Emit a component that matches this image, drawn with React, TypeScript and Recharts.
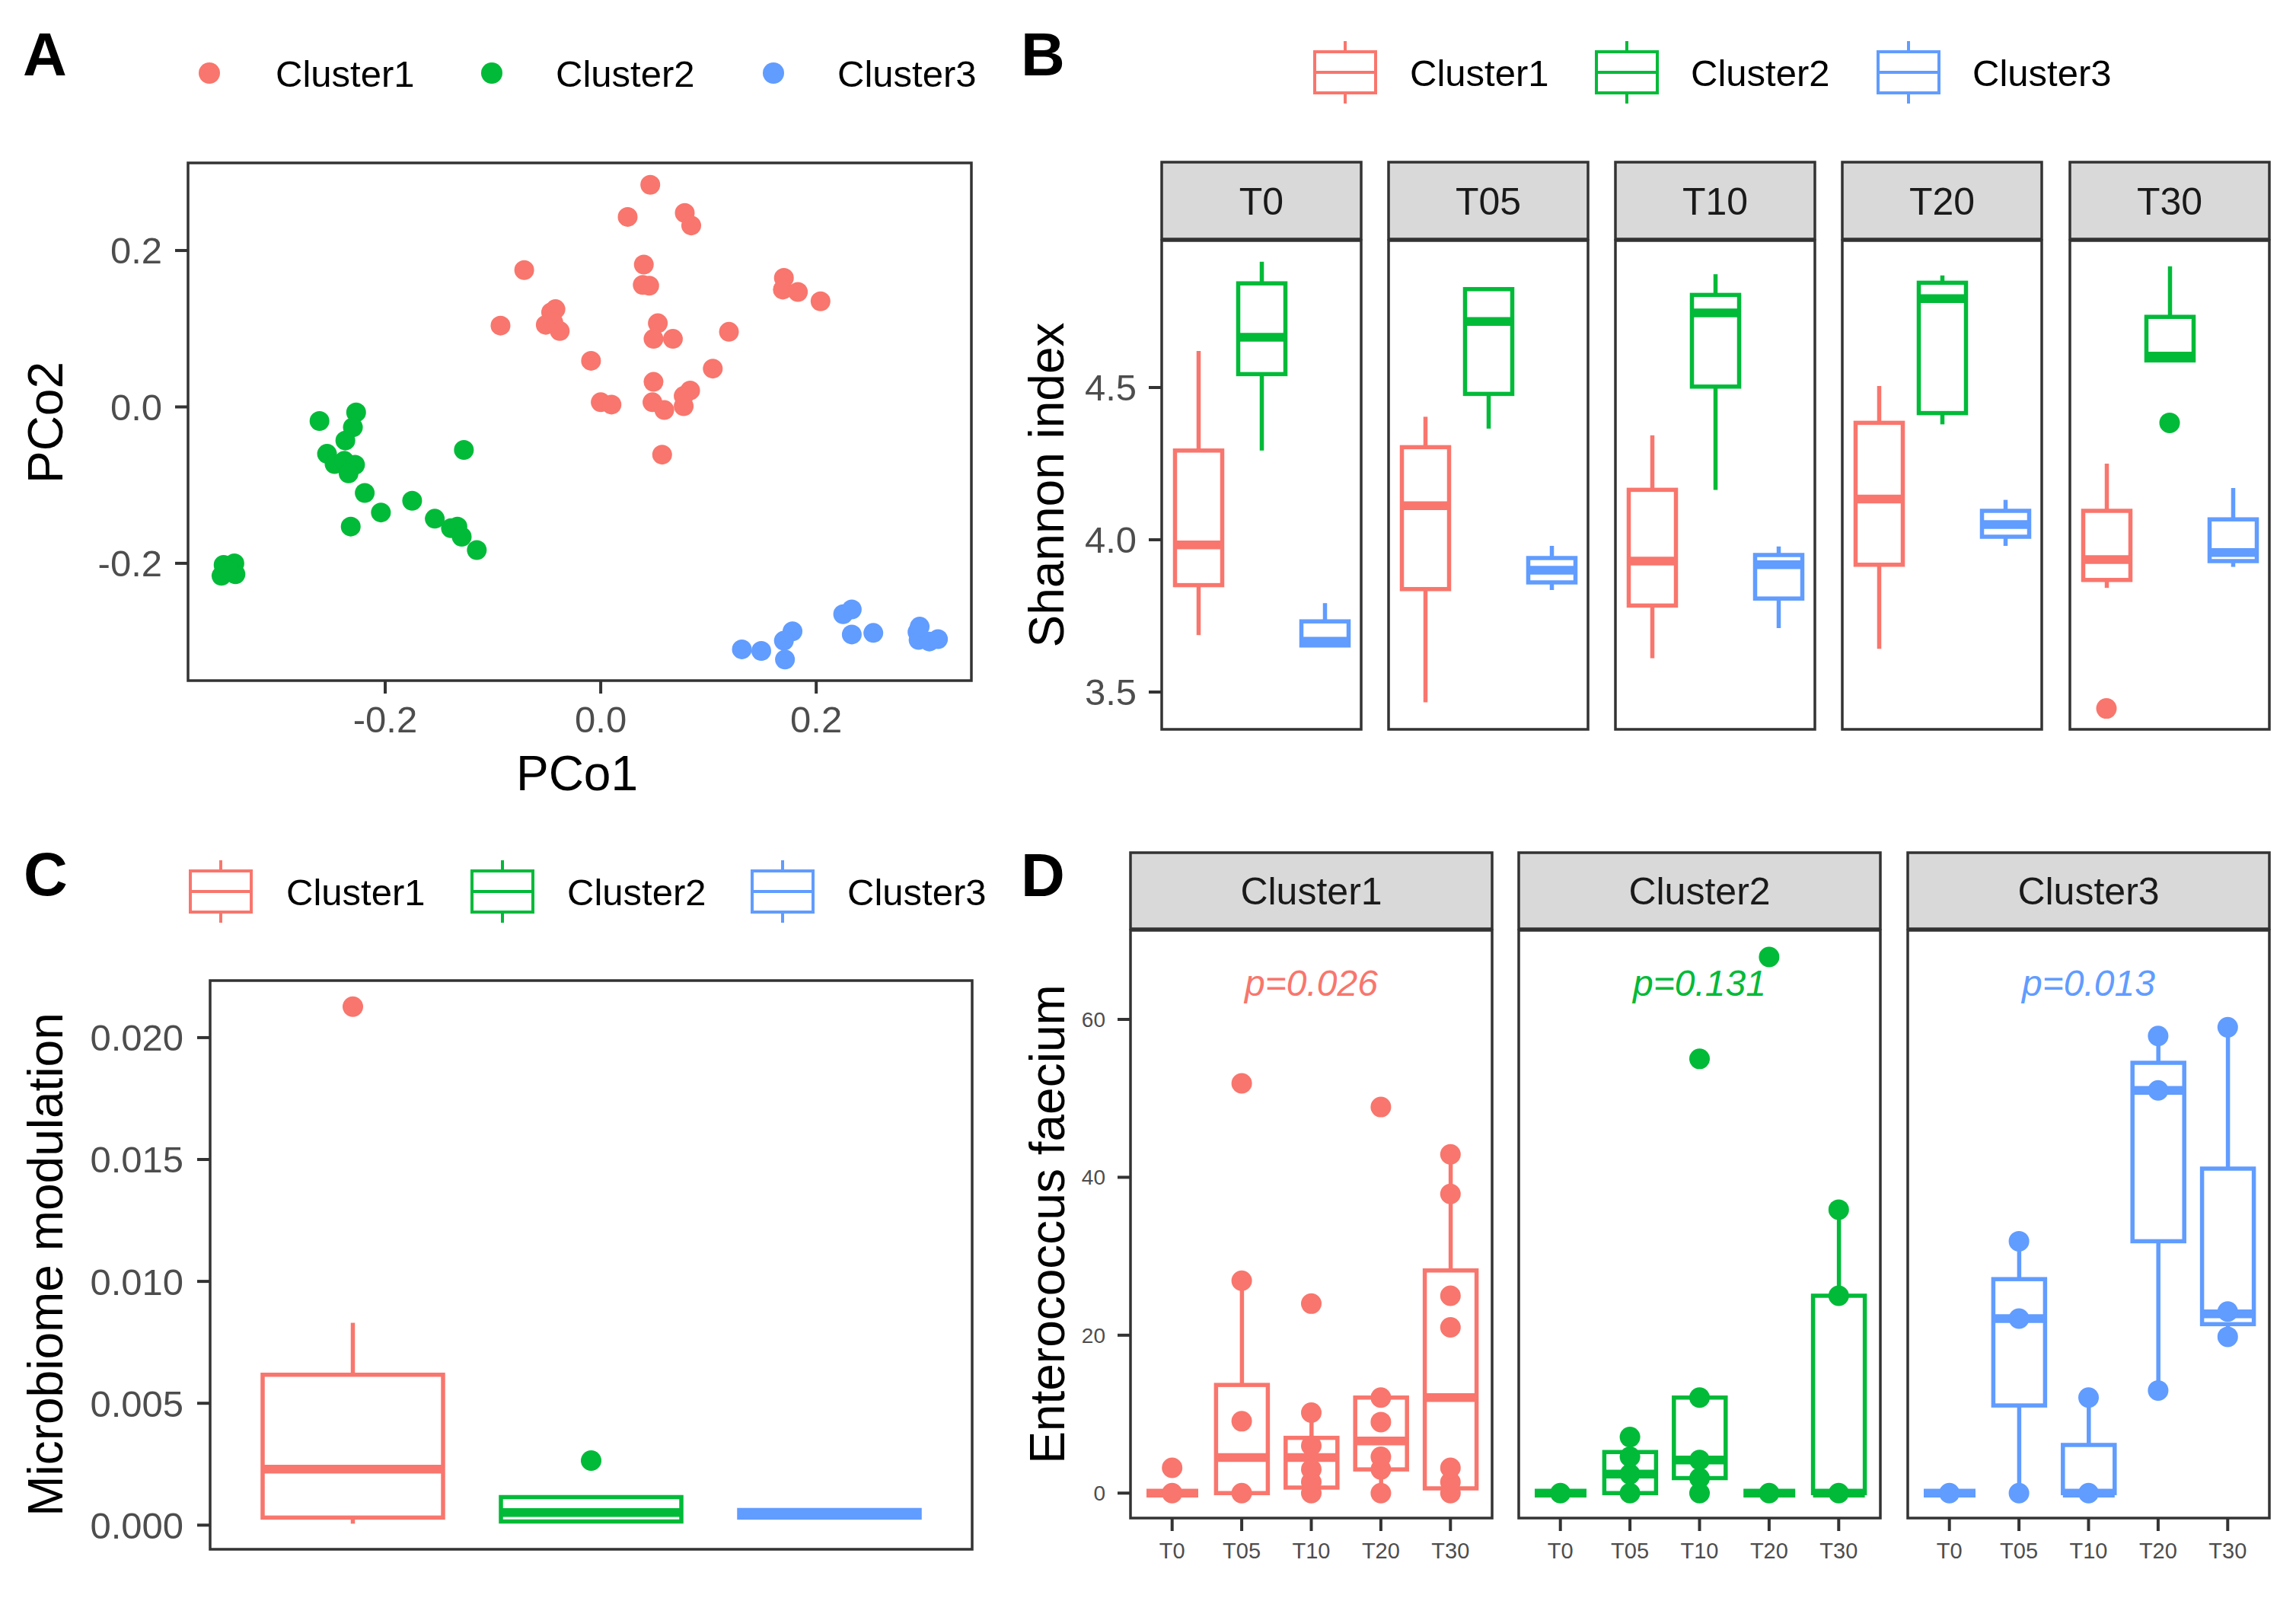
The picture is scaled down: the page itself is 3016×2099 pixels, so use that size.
import React from "react";
import { ComposedChart, ScatterChart, Scatter, Bar, XAxis, YAxis, ReferenceDot } from "recharts";

const FONT = "'Liberation Sans', Arial, Helvetica, sans-serif";
const TICK_GREY = "#4D4D4D";
const FRAME = "#333333";

const clusterNames = ["Cluster1", "Cluster2", "Cluster3"];
const clusterColors = ["#F8766D", "#00BA38", "#619CFF"];
const timePoints = ["T0", "T05", "T10", "T20", "T30"];

// A: PCoA scores, [PCo1, PCo2]
const pcoaCluster1 = [
  [0.046, 0.284], [0.025, 0.243], [0.078, 0.248], [0.084, 0.232], [-0.071, 0.175], [0.04, 0.182],
  [0.039, 0.156], [0.045, 0.155], [0.17, 0.165], [0.169, 0.15], [0.183, 0.147], [0.204, 0.135],
  [-0.046, 0.121], [-0.042, 0.125], [-0.051, 0.105], [-0.044, 0.108], [-0.038, 0.097], [-0.093, 0.104],
  [0.053, 0.107], [0.049, 0.087], [0.067, 0.087], [0.119, 0.096], [-0.009, 0.059], [0.104, 0.049],
  [0.049, 0.032], [0.0, 0.006], [0.01, 0.003], [0.048, 0.006], [0.059, -0.004], [0.077, 0.001],
  [0.083, 0.021], [0.077, 0.014], [0.057, -0.061],
];
const pcoaCluster2 = [
  [-0.261, -0.018], [-0.227, -0.007], [-0.23, -0.026], [-0.237, -0.043], [-0.254, -0.06], [-0.247, -0.073],
  [-0.238, -0.069], [-0.228, -0.074], [-0.234, -0.085], [-0.127, -0.055], [-0.219, -0.11], [-0.175, -0.12],
  [-0.204, -0.135], [-0.232, -0.153], [-0.154, -0.143], [-0.139, -0.155], [-0.133, -0.153], [-0.129, -0.166],
  [-0.115, -0.183], [-0.35, -0.202], [-0.34, -0.2], [-0.352, -0.216], [-0.339, -0.214], [-0.345, -0.209],
];
const pcoaCluster3 = [
  [0.131, -0.31], [0.149, -0.312], [0.178, -0.287], [0.17, -0.299], [0.171, -0.323], [0.225, -0.265],
  [0.233, -0.259], [0.233, -0.291], [0.253, -0.289], [0.294, -0.288], [0.295, -0.298], [0.305, -0.3],
  [0.313, -0.297], [0.296, -0.281],
];
const pcoTicks = [-0.2, 0, 0.2];
const pco1Domain = [-0.383, 0.344];
const pco2Domain = [-0.35, 0.312];

// B: Shannon index, per time point [lower whisker, Q1, median, Q3, upper whisker]
const shannonCluster1 = [
  [3.687, 3.851, 3.983, 4.293, 4.62],
  [3.466, 3.838, 4.112, 4.304, 4.404],
  [3.611, 3.784, 3.93, 4.164, 4.343],
  [3.642, 3.918, 4.134, 4.384, 4.505],
  [3.842, 3.868, 3.935, 4.095, 4.25],
];
const shannonCluster2 = [
  [4.293, 4.544, 4.665, 4.842, 4.913],
  [4.365, 4.479, 4.717, 4.823, 4.823],
  [4.164, 4.503, 4.745, 4.804, 4.872],
  [4.379, 4.416, 4.792, 4.844, 4.868],
  [4.589, 4.589, 4.603, 4.732, 4.898],
];
const shannonCluster3 = [
  [3.65, 3.653, 3.667, 3.732, 3.792],
  [3.835, 3.86, 3.9, 3.94, 3.98],
  [3.71, 3.807, 3.918, 3.95, 3.978],
  [3.98, 4.01, 4.05, 4.095, 4.131],
  [3.911, 3.93, 3.958, 4.067, 4.17],
];
const shannonOutliers = [
  { time: "T30", cluster: "Cluster1", value: 3.446 },
  { time: "T30", cluster: "Cluster2", value: 4.384 },
];
const shannonTicks = [3.5, 4.0, 4.5];
const shannonDomain = [3.3775, 4.9825];

// C: microbiome modulation [lower whisker, Q1, median, Q3, upper whisker]
const modulationStats = [
  [0.00006, 0.00031, 0.0023, 0.00617, 0.0083],
  [0.0001, 0.00015, 0.00052, 0.00115, 0.00115],
  [0.00027, 0.00031, 0.00047, 0.00062, 0.00065],
];
const modulationOutliers = [
  { cluster: "Cluster1", value: 0.02127 },
  { cluster: "Cluster2", value: 0.00265 },
];
const modulationTicks = [0, 0.005, 0.01, 0.015, 0.02];
const modulationDomain = [-0.00099, 0.02234];

// D: Enterococcus faecium per cluster and time point
const faeciumCluster1 = [
  [0, 0, 0, 0, 0],
  [0, 0, 4.5, 13.7, 26.9],
  [0, 0.7, 4.5, 7.0, 10.2],
  [0, 3.0, 6.6, 12.1, 12.1],
  [0, 0.6, 12.1, 28.2, 42.9],
];
const faeciumCluster2 = [
  [0, 0, 0, 0, 0],
  [0, 0, 2.4, 5.2, 7.1],
  [0, 1.9, 4.2, 12.1, 12.1],
  [0, 0, 0, 0, 0],
  [0, 0, 0, 25, 35.9],
];
const faeciumCluster3 = [
  [0, 0, 0, 0, 0],
  [0, 11.1, 22.1, 27.1, 31.9],
  [0, 0, 0, 6.1, 12.1],
  [13, 31.9, 51, 54.5, 57.9],
  [19.8, 21.4, 22.7, 41.1, 59],
];
const faeciumPoints1 = [[0, 3.2], [0, 9.1, 26.9, 51.9], [0, 1.4, 3.0, 6.0, 10.2, 24], [0, 3.0, 4.6, 9.0, 12.1, 48.9], [0, 1.4, 3.2, 21, 25, 37.9, 42.9]];
const faeciumPoints2 = [[0], [0, 2.4, 4.6, 7.1], [0, 1.9, 4.2, 12.1, 55], [0, 67.9], [0, 25, 35.9]];
const faeciumPoints3 = [[0], [0, 22.1, 31.9], [0, 12.1], [13, 51, 57.9], [19.8, 23, 59]];
const pValues = ["p=0.026", "p=0.131", "p=0.013"];
const pValueAt = 64.6;
const faeciumTicks = [0, 20, 40, 60];
const faeciumDomain = [-3.16, 71.28];

// layout (page pixels)
const PA = { x: 247, y: 214, w: 1029, h: 680 };
const PB = { y: 316, h: 642, stripY: 213, stripH: 101, lefts: [1526, 1824, 2122, 2420, 2719], w: 262, axisW: 176 };
const PC = { x: 276, y: 1288, w: 1001, h: 747 };
const PD = { y: 1222, h: 772, stripY: 1120, stripH: 100, lefts: [1485, 1995, 2506], w: 475, axisW: 135, xAxisH: 80 };

const LW = 5.5;
const MED = 11.5;

const toBox = (name: string, s: number[]) => ({ name, wl: s[0], q1: s[1], med: s[2], q3: s[3], wh: s[4] });
const colorOf = (name: string) => clusterColors[clusterNames.indexOf(name)];

const tickText = { fill: TICK_GREY, fontSize: 49, fontFamily: FONT };
const tickLine = { stroke: FRAME, strokeWidth: 4 };

function boxShape(getColor: (p: any) => string) {
  return (props: any) => {
    const { x, y, width, height, payload } = props;
    const top = Math.min(y, y + height);
    const bot = Math.max(y, y + height);
    const { wl, q1, med, q3, wh } = payload;
    const span = wh - wl;
    const py = (v: number) => (span === 0 ? bot : bot - ((v - wl) / span) * (bot - top));
    const cx = x + width / 2;
    const c = getColor(payload);
    return (
      <g>
        <line x1={cx} x2={cx} y1={py(wh)} y2={py(q3)} stroke={c} strokeWidth={LW} />
        <line x1={cx} x2={cx} y1={py(q1)} y2={py(wl)} stroke={c} strokeWidth={LW} />
        <rect x={x} y={py(q3)} width={width} height={Math.max(0, py(q1) - py(q3))} fill="#ffffff" stroke={c} strokeWidth={LW} />
        <line x1={x} x2={x + width} y1={py(med)} y2={py(med)} stroke={c} strokeWidth={MED} />
      </g>
    );
  };
}

const dotShape = (getColor: (p: any) => string, r: number) => (props: any) =>
  <circle cx={props.cx} cy={props.cy} r={r} fill={getColor(props.payload)} />;

function BoxKey({ cx, cy, color }: { cx: number; cy: number; color: string }) {
  return (
    <g stroke={color} strokeWidth={4} fill="#ffffff">
      <line x1={cx} x2={cx} y1={cy - 41} y2={cy + 41} />
      <rect x={cx - 40} y={cy - 27} width={80} height={54} />
      <line x1={cx - 40} x2={cx + 40} y1={cy} y2={cy} />
    </g>
  );
}

function PanelA() {
  return (
    <div style={{ position: "absolute", left: 0, top: 0 }}>
      <ScatterChart width={PA.x + PA.w + 24} height={PA.y + PA.h + 166} margin={{ top: PA.y, right: 24, left: 0, bottom: 0 }}>
        <XAxis type="number" dataKey="x" domain={pco1Domain} allowDataOverflow ticks={pcoTicks} interval={0}
          tickFormatter={(v: number) => v.toFixed(1)} height={166} tickSize={17} tickMargin={16}
          tick={tickText} tickLine={tickLine} axisLine={false} />
        <YAxis type="number" dataKey="y" domain={pco2Domain} allowDataOverflow ticks={pcoTicks} interval={0}
          tickFormatter={(v: number) => v.toFixed(1)} width={PA.x} tickSize={17} tickMargin={17}
          tick={tickText} tickLine={tickLine} axisLine={false} />
        {[pcoaCluster1, pcoaCluster2, pcoaCluster3].map((pts, i) => (
          <Scatter key={clusterNames[i]} name={clusterNames[i]} data={pts.map(([x, y]) => ({ x, y }))}
            shape={dotShape(() => clusterColors[i], 13)} isAnimationActive={false} />
        ))}
      </ScatterChart>
    </div>
  );
}

function PanelB() {
  const stats = [shannonCluster1, shannonCluster2, shannonCluster3];
  return (
    <>
      {timePoints.map((t, ti) => {
        const first = ti === 0;
        const left = first ? PB.lefts[ti] - PB.axisW : PB.lefts[ti];
        const rows = clusterNames.map((c, ci) => toBox(c, stats[ci][ti]));
        const outs = shannonOutliers.filter((o) => o.time === t).map((o) => ({ name: o.cluster, value: o.value }));
        return (
          <div key={t} style={{ position: "absolute", left, top: PB.y }}>
            <ComposedChart width={(first ? PB.axisW : 0) + PB.w} height={PB.h} data={rows} margin={{ top: 0, right: 0, left: 0, bottom: 0 }}>
              <XAxis dataKey="name" type="category" allowDuplicatedCategory={false} hide padding={{ left: 6.5, right: 6.5 }} />
              <YAxis type="number" domain={shannonDomain} allowDataOverflow ticks={shannonTicks} interval={0}
                tickFormatter={(v: number) => v.toFixed(1)} width={PB.axisW} hide={!first} tickSize={17} tickMargin={16}
                tick={tickText} tickLine={tickLine} axisLine={false} />
              <Bar dataKey={(d: any) => [d.wl, d.wh]} barSize={62} shape={boxShape((p) => colorOf(p.name))} isAnimationActive={false} />
              {outs.length > 0 && (
                <Scatter data={outs} dataKey="value" shape={dotShape((p) => colorOf(p.name), 13.5)} isAnimationActive={false} />
              )}
            </ComposedChart>
          </div>
        );
      })}
    </>
  );
}

function PanelC() {
  const rows = clusterNames.map((c, i) => toBox(c, modulationStats[i]));
  const outs = modulationOutliers.map((o) => ({ name: o.cluster, value: o.value }));
  return (
    <div style={{ position: "absolute", left: 0, top: PC.y }}>
      <ComposedChart width={PC.x + PC.w + 23} height={PC.h} data={rows} margin={{ top: 0, right: 23, left: 0, bottom: 0 }}>
        <XAxis dataKey="name" type="category" allowDuplicatedCategory={false} hide padding={{ left: 31, right: 31 }} />
        <YAxis type="number" domain={modulationDomain} allowDataOverflow ticks={modulationTicks} interval={0}
          tickFormatter={(v: number) => v.toFixed(3)} width={PC.x} tickSize={17} tickMargin={18}
          tick={tickText} tickLine={tickLine} axisLine={false} />
        <Bar dataKey={(d: any) => [d.wl, d.wh]} barSize={237} shape={boxShape((p) => colorOf(p.name))} isAnimationActive={false} />
        <Scatter data={outs} dataKey="value" shape={dotShape((p) => colorOf(p.name), 13.5)} isAnimationActive={false} />
      </ComposedChart>
    </div>
  );
}

function PanelD() {
  const stats = [faeciumCluster1, faeciumCluster2, faeciumCluster3];
  const points = [faeciumPoints1, faeciumPoints2, faeciumPoints3];
  return (
    <>
      {clusterNames.map((c, ci) => {
        const first = ci === 0;
        const left = first ? PD.lefts[ci] - PD.axisW : PD.lefts[ci];
        const color = clusterColors[ci];
        const rows = timePoints.map((t, ti) => toBox(t, stats[ci][ti]));
        const pts = timePoints.flatMap((t, ti) => points[ci][ti].map((v) => ({ name: t, value: v })));
        return (
          <div key={c} style={{ position: "absolute", left, top: PD.y }}>
            <ComposedChart width={(first ? PD.axisW : 0) + PD.w} height={PD.h + PD.xAxisH} data={rows} margin={{ top: 0, right: 0, left: 0, bottom: 0 }}>
              <XAxis dataKey="name" type="category" allowDuplicatedCategory={false} padding={{ left: 9, right: 9 }}
                height={PD.xAxisH} tickSize={17} tickMargin={15} interval={0}
                tick={{ ...tickText, fontSize: 29 }} tickLine={tickLine} axisLine={false} />
              <YAxis type="number" domain={faeciumDomain} allowDataOverflow ticks={faeciumTicks} interval={0}
                width={PD.axisW} hide={!first} tickSize={17} tickMargin={16}
                tick={{ ...tickText, fontSize: 28 }} tickLine={tickLine} axisLine={false} />
              <Bar dataKey={(d: any) => [d.wl, d.wh]} barSize={68} shape={boxShape(() => color)} isAnimationActive={false} />
              <Scatter data={pts} dataKey="value" shape={dotShape(() => color, 13.5)} isAnimationActive={false} />
              <ReferenceDot x={timePoints[2]} y={pValueAt} r={0} fill="none" stroke="none"
                label={{ value: pValues[ci], position: "center", fill: color, fontSize: 48, fontStyle: "italic", fontFamily: FONT }} />
            </ComposedChart>
          </div>
        );
      })}
    </>
  );
}

function Overlay() {
  const title = { fontSize: 64, fill: "#000000", fontFamily: FONT };
  const legendText = { fontSize: 49, fill: "#000000", fontFamily: FONT };
  const stripText = { fontSize: 50, fill: "#1A1A1A", fontFamily: FONT, textAnchor: "middle" as const };
  const frame = { fill: "none", stroke: FRAME, strokeWidth: 3.5 };
  const strip = { fill: "#D9D9D9", stroke: FRAME, strokeWidth: 3.5 };
  const letter = { fontSize: 80, fontWeight: 700, fill: "#000000", fontFamily: FONT };
  return (
    <svg width={3016} height={2099} style={{ position: "absolute", left: 0, top: 0, pointerEvents: "none" }}>
      {/* panel letters */}
      <text x={30} y={99} {...letter}>A</text>
      <text x={1341} y={99} {...letter}>B</text>
      <text x={31} y={1176} {...letter}>C</text>
      <text x={1341} y={1177} {...letter}>D</text>

      {/* legends */}
      {clusterNames.map((c, i) => (
        <g key={"la" + c}>
          <circle cx={[275, 646, 1016][i]} cy={96} r={14} fill={clusterColors[i]} />
          <text x={[362, 730, 1100][i]} y={114} {...legendText}>{c}</text>
        </g>
      ))}
      {clusterNames.map((c, i) => (
        <g key={"lb" + c}>
          <BoxKey cx={[1767, 2137, 2507][i]} cy={95} color={clusterColors[i]} />
          <text x={[1852, 2221, 2591][i]} y={113} {...legendText}>{c}</text>
        </g>
      ))}
      {clusterNames.map((c, i) => (
        <g key={"lc" + c}>
          <BoxKey cx={[290, 660, 1028][i]} cy={1171} color={clusterColors[i]} />
          <text x={[376, 745, 1113][i]} y={1189} {...legendText}>{c}</text>
        </g>
      ))}

      {/* frames */}
      <rect x={PA.x} y={PA.y} width={PA.w} height={PA.h} {...frame} />
      <rect x={PC.x} y={PC.y} width={PC.w} height={PC.h} {...frame} />
      {timePoints.map((t, i) => (
        <g key={"fb" + t}>
          <rect x={PB.lefts[i]} y={PB.stripY} width={PB.w} height={PB.stripH} {...strip} />
          <text x={PB.lefts[i] + PB.w / 2} y={282} {...stripText}>{t}</text>
          <rect x={PB.lefts[i]} y={PB.y} width={PB.w} height={PB.h} {...frame} />
        </g>
      ))}
      {clusterNames.map((c, i) => (
        <g key={"fd" + c}>
          <rect x={PD.lefts[i]} y={PD.stripY} width={PD.w} height={PD.stripH} {...strip} />
          <text x={PD.lefts[i] + PD.w / 2} y={1188} {...stripText}>{c}</text>
          <rect x={PD.lefts[i]} y={PD.y} width={PD.w} height={PD.h} {...frame} />
        </g>
      ))}

      {/* axis titles */}
      <text x={758} y={1038} textAnchor="middle" {...title}>PCo1</text>
      <text x={82} y={555} transform="rotate(-90 82 555)" textAnchor="middle" {...title}>PCo2</text>
      <text x={1397} y={637} transform="rotate(-90 1397 637)" textAnchor="middle" {...title}>Shannon index</text>
      <text x={82} y={1661} transform="rotate(-90 82 1661)" textAnchor="middle" {...title}>Microbiome modulation</text>
      <text x={1398} y={1608} transform="rotate(-90 1398 1608)" textAnchor="middle" {...title}>Enterococcus faecium</text>
    </svg>
  );
}

export default function App() {
  return (
    <div style={{ position: "absolute", left: 0, top: 0, width: 3016, height: 2099, background: "#ffffff", fontFamily: FONT, overflow: "hidden" }}>
      <PanelA />
      <PanelB />
      <PanelC />
      <PanelD />
      <Overlay />
    </div>
  );
}
